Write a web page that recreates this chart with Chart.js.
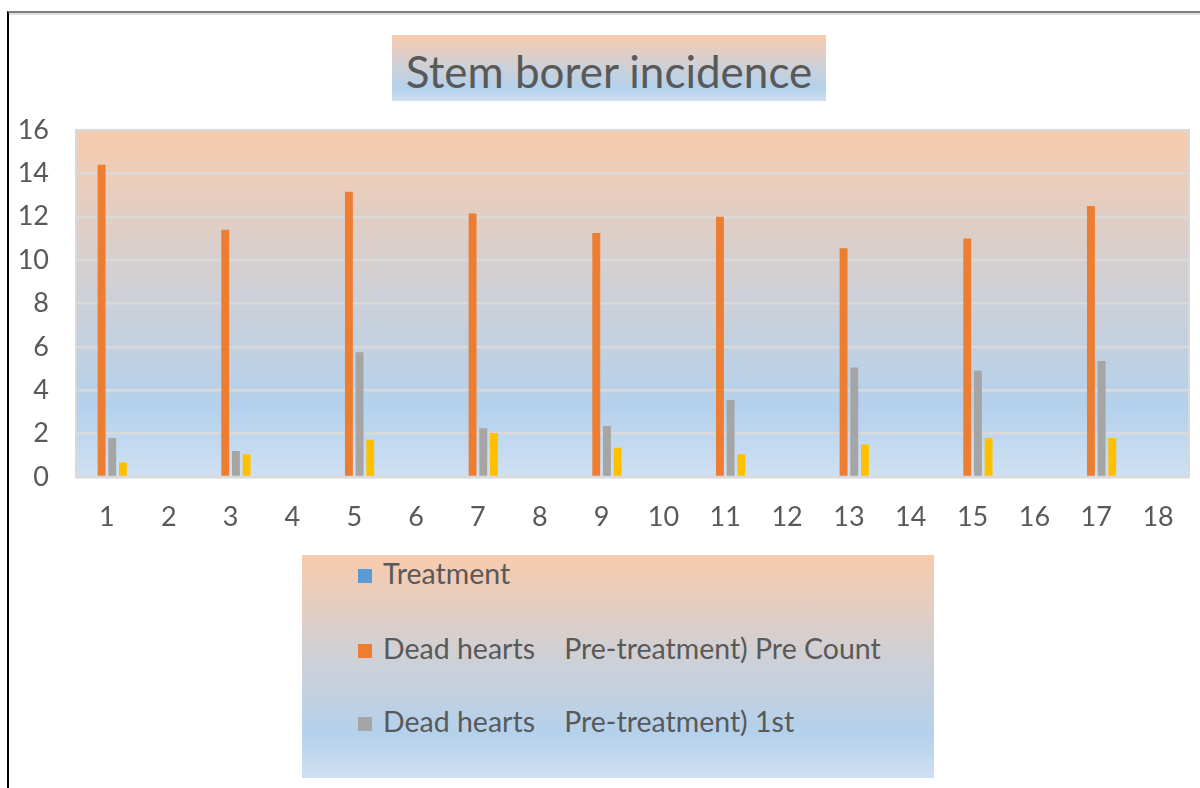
<!DOCTYPE html>
<html>
<head>
<meta charset="utf-8">
<script src="https://cdn.jsdelivr.net/npm/chart.js@4/dist/chart.umd.min.js"></script>
<style>
  body { margin: 0; background: #fff; font-family: Lato, "Open Sans", sans-serif; }
  #wrap { position: relative; width: 1200px; height: 788px; overflow: hidden; }
  #frame { position: absolute; left: 7px; top: 11px; width: 1200px; height: 790px;
    border-left: 2px solid #000; border-top: 2px solid #7f7f7f; box-shadow: inset 0 2px 0 #e0e0e0; }
  canvas { position: absolute; left: 0; top: 0; }
  .grad { background: linear-gradient(to bottom, #f8cbad 0%, #d0d0d5 45%, #b4d1ec 80%, #cfe0f2 100%); }
  #title { position: absolute; left: 392px; top: 35px; width: 434px; height: 66px;
    color: #595959; font-size: 44px; line-height: 72px; text-align: center; }
  #legend { position: absolute; left: 302px; top: 555px; width: 632px; height: 223px; }
  .item { position: absolute; left: 56px; color: #595959; font-size: 28.5px; white-space: pre; line-height: 32px; }
  .item span { display: inline-block; width: 14px; height: 14px; margin-right: 11px; vertical-align: 1px; }
</style>
</head>
<body>
<div id="wrap">
  <div id="frame"></div>
  <canvas id="myChart" width="1200" height="788"></canvas>
  <div id="title" class="grad">Stem borer incidence</div>
  <div id="legend" class="grad"></div>
</div>
<script>
const categories = ['1', '2', '3', '4', '5', '6', '7', '8', '9', '10', '11', '12', '13', '14', '15', '16', '17', '18'];
const treatment = [null, null, null, null, null, null, null, null, null, null, null, null, null, null, null, null, null, null];
const preCount = [14.4, null, 11.4, null, 13.15, null, 12.15, null, 11.25, null, 12.0, null, 10.55, null, 11.0, null, 12.5, null];
const firstCount = [1.8, null, 1.2, null, 5.75, null, 2.25, null, 2.35, null, 3.55, null, 5.05, null, 4.9, null, 5.35, null];
const secondCount = [0.67, null, 1.05, null, 1.72, null, 2.03, null, 1.35, null, 1.05, null, 1.5, null, 1.8, null, 1.8, null];
const yTicks = [0, 2, 4, 6, 8, 10, 12, 14, 16];

const seriesNames = ['Treatment', 'Dead hearts    Pre-treatment) Pre Count', 'Dead hearts    Pre-treatment) 1st', 'Dead hearts    Pre-treatment) 2nd'];
const seriesColors = ['#5b9bd5', '#ed7d31', '#a5a5a5', '#ffc000'];
const seriesData = [treatment, preCount, firstCount, secondCount];

// plot area gradient, drawn behind the grid
const plotBackground = {
    id: 'plotBackground',
    beforeDraw(chart) {
        const { ctx, chartArea: a } = chart;
        const g = ctx.createLinearGradient(0, a.top, 0, a.bottom);
        g.addColorStop(0, '#f8cbad');
        g.addColorStop(0.45, '#d0d0d5');
        g.addColorStop(0.8, '#b4d1ec');
        g.addColorStop(1, '#cfe0f2');
        ctx.save();
        ctx.fillStyle = g;
        ctx.fillRect(a.left, a.top, a.width, a.height);
        ctx.strokeStyle = '#d9d9d9';
        ctx.lineWidth = 2;
        ctx.strokeRect(a.left, a.top, a.width, a.height);
        ctx.restore();
    }
};

const ctx = document.getElementById('myChart').getContext('2d');
const chart = new Chart(ctx, {
    type: 'bar',
    data: {
        labels: categories,
        datasets: seriesData.map((d, i) => ({
            label: seriesNames[i],
            data: d,
            backgroundColor: seriesColors[i],
            categoryPercentage: 0.69,
            barPercentage: 0.74
        }))
    },
    options: {
        responsive: false,
        animation: false,
        layout: { padding: { left: 10, top: 130, right: 11, bottom: 0 } },
        plugins: { legend: { display: false }, title: { display: false }, tooltip: { enabled: false } },
        scales: {
            x: {
                grid: { display: false, drawTicks: false },
                border: { display: false },
                ticks: { color: '#595959', padding: 24, font: { family: 'Lato', size: 27 } },
                afterFit: (s) => { s.height = 311; }
            },
            y: {
                min: 0,
                max: 16,
                afterBuildTicks: (s) => { s.ticks = yTicks.map(v => ({ value: v })); },
                grid: { color: '#d9d9d9', lineWidth: 2.5, drawTicks: false },
                border: { display: false },
                ticks: { color: '#595959', padding: 27, font: { family: 'Lato', size: 27 } },
                afterFit: (s) => { s.width = 66; }
            }
        }
    },
    plugins: [plotBackground]
});

// legend box (the 4th series falls outside the box, as in the original)
const legendBox = document.getElementById('legend');
const rowTops = [2, 77, 150];
chart.data.datasets.slice(0, 3).forEach((ds, i) => {
    const item = document.createElement('div');
    item.className = 'item';
    item.style.top = rowTops[i] + 'px';
    const mark = document.createElement('span');
    mark.style.background = ds.backgroundColor;
    item.appendChild(mark);
    item.appendChild(document.createTextNode(ds.label));
    legendBox.appendChild(item);
});
</script>
</body>
</html>
